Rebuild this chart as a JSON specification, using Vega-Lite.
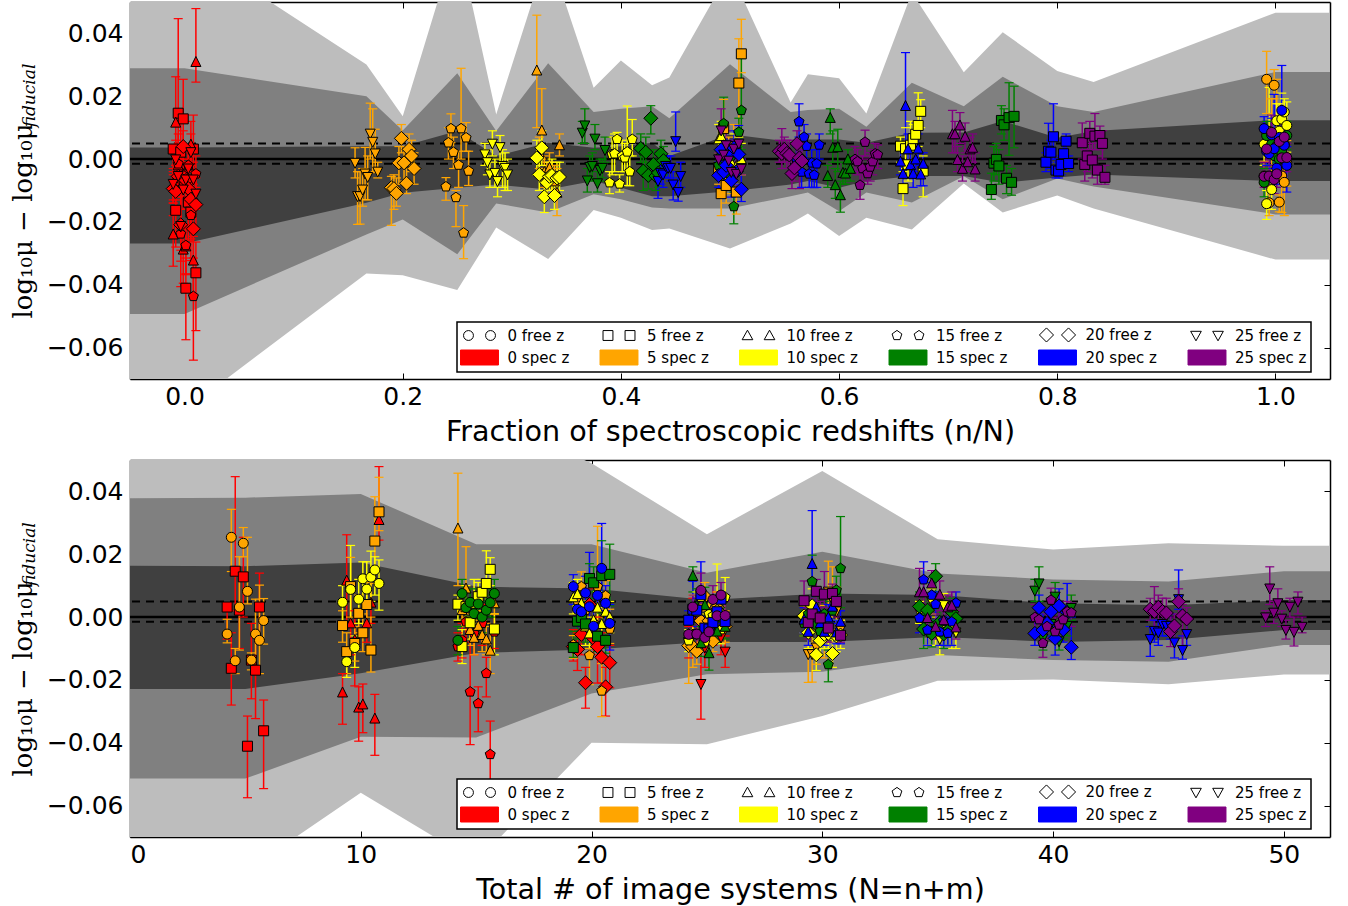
{"$schema":"https://vega.github.io/schema/vega-lite/v6.json","padding":{"left":10,"top":1,"right":18,"bottom":2},"background":"white","bounds":"flush","spacing":81,
"config":{"view":{"stroke":null},"legend":{"strokeWidth":1.5},"axis":{"grid":false,"domainColor":"black","domainWidth":1.5,"tickColor":"black","tickWidth":1,"tickSize":-6,"zindex":1,"labelFont":"DejaVu Sans","labelFontSize":25,"labelColor":"black","titleFont":"DejaVu Sans","titleFontSize":28.6,"titleColor":"black","titleFontWeight":"normal","labelPadding":11}},
"datasets":{
"leg":[{"label":"0 free z"},{"label":"5 free z"},{"label":"10 free z"},{"label":"15 free z"},{"label":"20 free z"},{"label":"25 free z"},{"label":"0 spec z"},{"label":"5 spec z"},{"label":"10 spec z"},{"label":"15 spec z"},{"label":"20 spec z"},{"label":"25 spec z"}],
"lines":[{"v":0,"k":"solid"},{"v":0.005,"k":"dash"},{"v":-0.0015,"k":"dash"}],
"sub":[{"t":"fiducial"}],
"b1":[
{"x":-0.05,"h3":0.0678,"h2":0.0289,"h1":0.0037,"l1":-0.0269,"l2":-0.0493,"l3":-0.08},
{"x":0,"h3":0.0678,"h2":0.0289,"h1":0.0037,"l1":-0.0269,"l2":-0.0493,"l3":-0.08},
{"x":0.1667,"h3":0.0301,"h2":0.02,"h1":0.0041,"l1":-0.0139,"l2":-0.024,"l3":-0.0364},
{"x":0.2,"h3":0.0136,"h2":0.0091,"h1":0.0041,"l1":-0.0107,"l2":-0.0192,"l3":-0.037},
{"x":0.25,"h3":0.0706,"h2":0.0273,"h1":0.0089,"l1":-0.0091,"l2":-0.0303,"l3":-0.0417},
{"x":0.2857,"h3":0.0142,"h2":0.0089,"h1":0.001,"l1":-0.0081,"l2":-0.0141,"l3":-0.0218},
{"x":0.3333,"h3":0.066,"h2":0.0305,"h1":0.0052,"l1":-0.0097,"l2":-0.017,"l3":-0.0318},
{"x":0.375,"h3":0.0227,"h2":0.015,"h1":0.0036,"l1":-0.007,"l2":-0.0112,"l3":-0.0162},
{"x":0.4,"h3":0.0314,"h2":0.016,"h1":0.0041,"l1":-0.0091,"l2":-0.0128,"l3":-0.0187},
{"x":0.4286,"h3":0.0235,"h2":0.0168,"h1":0.0052,"l1":-0.0118,"l2":-0.0154,"l3":-0.0226},
{"x":0.4444,"h3":0.026,"h2":0.013,"h1":0.001,"l1":-0.0118,"l2":-0.0157,"l3":-0.0221},
{"x":0.5,"h3":0.06,"h2":0.0302,"h1":0.0079,"l1":-0.0102,"l2":-0.0157,"l3":-0.0285},
{"x":0.5556,"h3":0.018,"h2":0.015,"h1":0.0055,"l1":-0.0081,"l2":-0.0118,"l3":-0.0205},
{"x":0.5714,"h3":0.027,"h2":0.0156,"h1":0.0062,"l1":-0.007,"l2":-0.0106,"l3":-0.0173},
{"x":0.6,"h3":0.0257,"h2":0.016,"h1":0.0062,"l1":-0.0091,"l2":-0.0166,"l3":-0.0245},
{"x":0.625,"h3":0.0145,"h2":0.0103,"h1":0.0052,"l1":-0.007,"l2":-0.0106,"l3":-0.0187},
{"x":0.6667,"h3":0.053,"h2":0.0243,"h1":0.0084,"l1":-0.0054,"l2":-0.0138,"l3":-0.0224},
{"x":0.7143,"h3":0.0276,"h2":0.0168,"h1":0.0085,"l1":-0.0054,"l2":-0.0055,"l3":-0.0078},
{"x":0.75,"h3":0.0404,"h2":0.0262,"h1":0.0121,"l1":-0.0075,"l2":-0.0128,"l3":-0.017},
{"x":0.8,"h3":0.028,"h2":0.0168,"h1":0.0068,"l1":-0.0059,"l2":-0.0062,"l3":-0.0116},
{"x":0.8333,"h3":0.0245,"h2":0.015,"h1":0.0089,"l1":-0.0049,"l2":-0.0087,"l3":-0.0157},
{"x":1,"h3":0.0466,"h2":0.0277,"h1":0.0124,"l1":-0.007,"l2":-0.0176,"l3":-0.032},
{"x":1.05,"h3":0.0466,"h2":0.0277,"h1":0.0124,"l1":-0.007,"l2":-0.0176,"l3":-0.032}],
"b2":[
{"x":0,"h3":0.07,"h2":0.0378,"h1":0.0163,"l1":-0.0229,"l2":-0.0514,"l3":-0.081},
{"x":5,"h3":0.07,"h2":0.038,"h1":0.0162,"l1":-0.0229,"l2":-0.0514,"l3":-0.081},
{"x":10,"h3":0.07,"h2":0.0392,"h1":0.0174,"l1":-0.0179,"l2":-0.0381,"l3":-0.0559},
{"x":15,"h3":0.065,"h2":0.0232,"h1":0.0097,"l1":-0.0114,"l2":-0.0383,"l3":-0.078},
{"x":20,"h3":0.049,"h2":0.0232,"h1":0.0091,"l1":-0.0103,"l2":-0.0243,"l3":-0.04},
{"x":25,"h3":0.0264,"h2":0.0141,"h1":0.0054,"l1":-0.0079,"l2":-0.0182,"l3":-0.0405},
{"x":30,"h3":0.0465,"h2":0.0208,"h1":0.0075,"l1":-0.0079,"l2":-0.0174,"l3":-0.0315},
{"x":35,"h3":0.0248,"h2":0.0139,"h1":0.007,"l1":-0.0063,"l2":-0.0121,"l3":-0.0203},
{"x":40,"h3":0.0215,"h2":0.012,"h1":0.0044,"l1":-0.0079,"l2":-0.0137,"l3":-0.0199},
{"x":45,"h3":0.0235,"h2":0.0113,"h1":0.0038,"l1":-0.0073,"l2":-0.0142,"l3":-0.0214},
{"x":50,"h3":0.0227,"h2":0.0146,"h1":0.0054,"l1":-0.0041,"l2":-0.0089,"l3":-0.0183},
{"x":52,"h3":0.0227,"h2":0.0146,"h1":0.0054,"l1":-0.0041,"l2":-0.0089,"l3":-0.0183}],
"pts":[
{"n":0,"m":5,"f":-0.0104,"N":4.21,"y":0.0032,"lo":-0.007,"hi":0.0045},
{"n":0,"m":5,"f":-0.0081,"N":4.39,"y":-0.0163,"lo":-0.028,"hi":-0.005},
{"n":0,"m":5,"f":-0.0058,"N":4.56,"y":0.0146,"lo":0.002,"hi":0.0447},
{"n":0,"m":5,"f":-0.0035,"N":4.74,"y":0.0022,"lo":-0.01,"hi":0.013},
{"n":0,"m":5,"f":-0.0012,"N":4.91,"y":0.0128,"lo":0,"hi":0.0254},
{"n":0,"m":5,"f":0.0012,"N":5.09,"y":-0.0411,"lo":-0.0575,"hi":-0.0315},
{"n":0,"m":5,"f":0.0035,"N":5.26,"y":-0.0137,"lo":-0.026,"hi":-0.002},
{"n":0,"m":5,"f":0.0058,"N":5.44,"y":-0.0169,"lo":-0.0323,"hi":-0.006},
{"n":0,"m":5,"f":0.0081,"N":5.61,"y":0.0032,"lo":-0.008,"hi":0.014},
{"n":0,"m":5,"f":0.0104,"N":5.79,"y":-0.0362,"lo":-0.0546,"hi":-0.0264},
{"n":0,"m":10,"f":-0.0104,"N":9.21,"y":-0.024,"lo":-0.0341,"hi":-0.018},
{"n":0,"m":10,"f":-0.0081,"N":9.39,"y":0.0116,"lo":-0.002,"hi":0.0262},
{"n":0,"m":10,"f":-0.0058,"N":9.56,"y":-0.002,"lo":-0.012,"hi":0.008},
{"n":0,"m":10,"f":-0.0035,"N":9.74,"y":-0.0073,"lo":-0.0219,"hi":0.002},
{"n":0,"m":10,"f":-0.0012,"N":9.91,"y":-0.0288,"lo":-0.0395,"hi":-0.0222},
{"n":0,"m":10,"f":0.0012,"N":10.09,"y":-0.0278,"lo":-0.0368,"hi":-0.0213},
{"n":0,"m":10,"f":0.0035,"N":10.26,"y":-0.002,"lo":-0.008,"hi":0.004},
{"n":0,"m":10,"f":0.0058,"N":10.44,"y":0.0046,"lo":-0.002,"hi":0.012},
{"n":0,"m":10,"f":0.0081,"N":10.61,"y":-0.0323,"lo":-0.044,"hi":-0.0246},
{"n":0,"m":10,"f":0.0104,"N":10.79,"y":0.0309,"lo":0.0245,"hi":0.0479},
{"n":0,"m":15,"f":-0.0104,"N":14.21,"y":-0.0094,"lo":-0.014,"hi":-0.005},
{"n":0,"m":15,"f":-0.0081,"N":14.39,"y":-0.0073,"lo":-0.013,"hi":-0.002},
{"n":0,"m":15,"f":-0.0058,"N":14.56,"y":-0.0015,"lo":-0.008,"hi":0.005},
{"n":0,"m":15,"f":-0.0035,"N":14.74,"y":-0.0238,"lo":-0.0406,"hi":-0.004},
{"n":0,"m":15,"f":-0.0012,"N":14.91,"y":-0.0052,"lo":-0.012,"hi":0.002},
{"n":0,"m":15,"f":0.0012,"N":15.09,"y":-0.0275,"lo":-0.0365,"hi":-0.0222},
{"n":0,"m":15,"f":0.0035,"N":15.26,"y":-0.002,"lo":-0.009,"hi":0.004},
{"n":0,"m":15,"f":0.0058,"N":15.44,"y":-0.0179,"lo":-0.0254,"hi":-0.0128},
{"n":0,"m":15,"f":0.0081,"N":15.61,"y":-0.0437,"lo":-0.064,"hi":-0.0331},
{"n":0,"m":15,"f":0.0104,"N":15.79,"y":-0.0047,"lo":-0.01,"hi":0.001},
{"n":0,"m":20,"f":-0.0104,"N":19.21,"y":-0.0094,"lo":-0.014,"hi":-0.004},
{"n":0,"m":20,"f":-0.0081,"N":19.39,"y":-0.0103,"lo":-0.017,"hi":-0.005},
{"n":0,"m":20,"f":-0.0058,"N":19.56,"y":-0.0055,"lo":-0.012,"hi":0},
{"n":0,"m":20,"f":-0.0035,"N":19.74,"y":-0.0209,"lo":-0.029,"hi":-0.016},
{"n":0,"m":20,"f":-0.0012,"N":19.91,"y":0.004,"lo":-0.002,"hi":0.009},
{"n":0,"m":20,"f":0.0012,"N":20.09,"y":-0.0068,"lo":-0.012,"hi":-0.001},
{"n":0,"m":20,"f":0.0035,"N":20.26,"y":-0.0094,"lo":-0.021,"hi":0},
{"n":0,"m":20,"f":0.0058,"N":20.44,"y":-0.0128,"lo":-0.021,"hi":-0.005},
{"n":0,"m":20,"f":0.0081,"N":20.61,"y":-0.0222,"lo":-0.0315,"hi":-0.016},
{"n":0,"m":20,"f":0.0104,"N":20.79,"y":-0.0145,"lo":-0.0225,"hi":-0.009},
{"n":0,"m":25,"f":-0.0104,"N":24.21,"y":-0.0079,"lo":-0.013,"hi":-0.003},
{"n":0,"m":25,"f":-0.0081,"N":24.39,"y":-0.0001,"lo":-0.006,"hi":0.006},
{"n":0,"m":25,"f":-0.0058,"N":24.56,"y":-0.0054,"lo":-0.012,"hi":0.001},
{"n":0,"m":25,"f":-0.0035,"N":24.74,"y":-0.0213,"lo":-0.0325,"hi":-0.011},
{"n":0,"m":25,"f":-0.0012,"N":24.91,"y":-0.0097,"lo":-0.016,"hi":-0.004},
{"n":0,"m":25,"f":0.0012,"N":25.09,"y":-0.0065,"lo":-0.012,"hi":-0.001},
{"n":0,"m":25,"f":0.0035,"N":25.26,"y":-0.003,"lo":-0.009,"hi":0.003},
{"n":0,"m":25,"f":0.0058,"N":25.44,"y":0.0022,"lo":-0.004,"hi":0.008},
{"n":0,"m":25,"f":0.0081,"N":25.61,"y":-0.0065,"lo":-0.012,"hi":-0.001},
{"n":0,"m":25,"f":0.0104,"N":25.79,"y":-0.011,"lo":-0.016,"hi":-0.006},
{"n":5,"m":0,"f":0.9896,"N":4.21,"y":-0.0054,"lo":-0.0082,"hi":-0.0007},
{"n":5,"m":0,"f":0.9919,"N":4.39,"y":0.0254,"lo":0.0145,"hi":0.0343},
{"n":5,"m":0,"f":0.9942,"N":4.56,"y":-0.0139,"lo":-0.018,"hi":-0.01},
{"n":5,"m":0,"f":0.9965,"N":4.74,"y":0.0032,"lo":-0.0105,"hi":0.0192},
{"n":5,"m":0,"f":0.9988,"N":4.91,"y":0.0235,"lo":0.0192,"hi":0.0285},
{"n":5,"m":0,"f":1.0012,"N":5.09,"y":0.0082,"lo":0.0042,"hi":0.0254},
{"n":5,"m":0,"f":1.0035,"N":5.26,"y":-0.0137,"lo":-0.0168,"hi":-0.0114},
{"n":5,"m":0,"f":1.0058,"N":5.44,"y":-0.0054,"lo":-0.017,"hi":0.0057},
{"n":5,"m":0,"f":1.0081,"N":5.61,"y":-0.0074,"lo":-0.018,"hi":0.0102},
{"n":5,"m":0,"f":1.0104,"N":5.79,"y":-0.0011,"lo":-0.0086,"hi":0.0059},
{"n":5,"m":5,"f":0.4896,"N":9.21,"y":-0.0027,"lo":-0.008,"hi":0.002},
{"n":5,"m":5,"f":0.4919,"N":9.39,"y":-0.011,"lo":-0.018,"hi":-0.005},
{"n":5,"m":5,"f":0.4942,"N":9.56,"y":0.0097,"lo":0,"hi":0.019},
{"n":5,"m":5,"f":0.4965,"N":9.74,"y":-0.0084,"lo":-0.014,"hi":-0.003},
{"n":5,"m":5,"f":0.4988,"N":9.91,"y":0.0012,"lo":-0.005,"hi":0.007},
{"n":5,"m":5,"f":0.5012,"N":10.09,"y":-0.005,"lo":-0.011,"hi":0.001},
{"n":5,"m":5,"f":0.5035,"N":10.26,"y":0.004,"lo":-0.003,"hi":0.011},
{"n":5,"m":5,"f":0.5058,"N":10.44,"y":-0.0105,"lo":-0.0175,"hi":0},
{"n":5,"m":5,"f":0.5081,"N":10.61,"y":0.0242,"lo":0.0107,"hi":0.0383},
{"n":5,"m":5,"f":0.5104,"N":10.79,"y":0.0335,"lo":0.0275,"hi":0.0445},
{"n":5,"m":10,"f":0.3229,"N":14.21,"y":0.0282,"lo":0.01,"hi":0.0458},
{"n":5,"m":10,"f":0.3252,"N":14.39,"y":0.0022,"lo":-0.003,"hi":0.007},
{"n":5,"m":10,"f":0.3275,"N":14.56,"y":0.0091,"lo":0,"hi":0.0224},
{"n":5,"m":10,"f":0.3298,"N":14.74,"y":-0.0041,"lo":-0.009,"hi":0.001},
{"n":5,"m":10,"f":0.3321,"N":14.91,"y":-0.0066,"lo":-0.012,"hi":-0.001},
{"n":5,"m":10,"f":0.3345,"N":15.09,"y":-0.0028,"lo":-0.007,"hi":0.002},
{"n":5,"m":10,"f":0.3368,"N":15.26,"y":-0.0057,"lo":-0.011,"hi":-0.001},
{"n":5,"m":10,"f":0.3391,"N":15.44,"y":-0.0071,"lo":-0.012,"hi":-0.002},
{"n":5,"m":10,"f":0.3414,"N":15.61,"y":-0.0107,"lo":-0.018,"hi":-0.003},
{"n":5,"m":10,"f":0.3437,"N":15.79,"y":0.0044,"lo":0.001,"hi":0.008},
{"n":5,"m":15,"f":0.2396,"N":19.21,"y":-0.0088,"lo":-0.0131,"hi":-0.0059},
{"n":5,"m":15,"f":0.2419,"N":19.39,"y":0.0052,"lo":0,"hi":0.01},
{"n":5,"m":15,"f":0.2442,"N":19.56,"y":0.0097,"lo":0.0052,"hi":0.0144},
{"n":5,"m":15,"f":0.2465,"N":19.74,"y":0.0022,"lo":-0.003,"hi":0.007},
{"n":5,"m":15,"f":0.2488,"N":19.91,"y":-0.0122,"lo":-0.0215,"hi":-0.01},
{"n":5,"m":15,"f":0.2512,"N":20.09,"y":-0.0019,"lo":-0.009,"hi":0.0025},
{"n":5,"m":15,"f":0.2535,"N":20.26,"y":0.0097,"lo":0,"hi":0.0289},
{"n":5,"m":15,"f":0.2558,"N":20.44,"y":-0.0235,"lo":-0.0317,"hi":-0.0148},
{"n":5,"m":15,"f":0.2581,"N":20.61,"y":0.0068,"lo":0.0025,"hi":0.0116},
{"n":5,"m":15,"f":0.2604,"N":20.79,"y":-0.0038,"lo":-0.0084,"hi":0.0025},
{"n":5,"m":20,"f":0.1896,"N":24.21,"y":-0.0091,"lo":-0.0211,"hi":-0.0055},
{"n":5,"m":20,"f":0.1919,"N":24.39,"y":-0.0094,"lo":-0.016,"hi":-0.005},
{"n":5,"m":20,"f":0.1942,"N":24.56,"y":-0.0109,"lo":-0.015,"hi":-0.006},
{"n":5,"m":20,"f":0.1965,"N":24.74,"y":-0.0012,"lo":-0.008,"hi":0.004},
{"n":5,"m":20,"f":0.1988,"N":24.91,"y":0.0066,"lo":0.002,"hi":0.011},
{"n":5,"m":20,"f":0.2012,"N":25.09,"y":-0.0012,"lo":-0.007,"hi":0.004},
{"n":5,"m":20,"f":0.2035,"N":25.26,"y":-0.0077,"lo":-0.011,"hi":-0.003},
{"n":5,"m":20,"f":0.2058,"N":25.44,"y":0.0031,"lo":-0.002,"hi":0.008},
{"n":5,"m":20,"f":0.2081,"N":25.61,"y":0.001,"lo":-0.004,"hi":0.006},
{"n":5,"m":20,"f":0.2104,"N":25.79,"y":-0.003,"lo":-0.008,"hi":0.002},
{"n":5,"m":25,"f":0.1563,"N":29.21,"y":-0.0012,"lo":-0.006,"hi":0.0036},
{"n":5,"m":25,"f":0.1586,"N":29.39,"y":-0.0118,"lo":-0.0208,"hi":-0.004},
{"n":5,"m":25,"f":0.1609,"N":29.56,"y":-0.0118,"lo":-0.0207,"hi":-0.004},
{"n":5,"m":25,"f":0.1632,"N":29.74,"y":-0.0097,"lo":-0.015,"hi":-0.003},
{"n":5,"m":25,"f":0.1655,"N":29.91,"y":-0.0046,"lo":-0.0129,"hi":0.0037},
{"n":5,"m":25,"f":0.1679,"N":30.09,"y":-0.0057,"lo":-0.013,"hi":0.001},
{"n":5,"m":25,"f":0.1702,"N":30.26,"y":0.0081,"lo":0,"hi":0.0178},
{"n":5,"m":25,"f":0.1725,"N":30.44,"y":0.0055,"lo":-0.0043,"hi":0.016},
{"n":5,"m":25,"f":0.1748,"N":30.61,"y":0.0018,"lo":-0.004,"hi":0.0095},
{"n":5,"m":25,"f":0.1771,"N":30.79,"y":-0.004,"lo":-0.006,"hi":-0.001},
{"n":10,"m":0,"f":0.9896,"N":9.21,"y":0.0047,"lo":-0.002,"hi":0.01},
{"n":10,"m":0,"f":0.9919,"N":9.39,"y":-0.0142,"lo":-0.0192,"hi":-0.01},
{"n":10,"m":0,"f":0.9942,"N":9.56,"y":0.0088,"lo":-0.003,"hi":0.0228},
{"n":10,"m":0,"f":0.9965,"N":9.74,"y":-0.0097,"lo":-0.016,"hi":-0.006},
{"n":10,"m":0,"f":0.9988,"N":9.91,"y":0.0057,"lo":-0.002,"hi":0.012},
{"n":10,"m":0,"f":1.0012,"N":10.09,"y":0.0122,"lo":0.005,"hi":0.0176},
{"n":10,"m":0,"f":1.0035,"N":10.26,"y":0.0089,"lo":0.003,"hi":0.0176},
{"n":10,"m":0,"f":1.0058,"N":10.44,"y":0.0127,"lo":0.005,"hi":0.021},
{"n":10,"m":0,"f":1.0081,"N":10.61,"y":0.015,"lo":0.007,"hi":0.0192},
{"n":10,"m":0,"f":1.0104,"N":10.79,"y":0.0107,"lo":0.0022,"hi":0.0182},
{"n":10,"m":5,"f":0.6563,"N":14.21,"y":0.0041,"lo":-0.001,"hi":0.007},
{"n":10,"m":5,"f":0.6586,"N":14.39,"y":-0.0094,"lo":-0.0148,"hi":-0.004},
{"n":10,"m":5,"f":0.6609,"N":14.56,"y":0.0033,"lo":-0.003,"hi":0.01},
{"n":10,"m":5,"f":0.6632,"N":14.74,"y":-0.0018,"lo":-0.007,"hi":0.003},
{"n":10,"m":5,"f":0.6655,"N":14.91,"y":0.0044,"lo":-0.002,"hi":0.012},
{"n":10,"m":5,"f":0.6679,"N":15.09,"y":0.0065,"lo":0.002,"hi":0.011},
{"n":10,"m":5,"f":0.6702,"N":15.26,"y":0.0079,"lo":0.003,"hi":0.012},
{"n":10,"m":5,"f":0.6725,"N":15.44,"y":0.0107,"lo":0.004,"hi":0.0211},
{"n":10,"m":5,"f":0.6748,"N":15.61,"y":0.0152,"lo":0.01,"hi":0.0189},
{"n":10,"m":5,"f":0.6771,"N":15.79,"y":-0.0038,"lo":-0.012,"hi":0.001},
{"n":10,"m":10,"f":0.4896,"N":19.21,"y":0.0063,"lo":0.001,"hi":0.011},
{"n":10,"m":10,"f":0.4919,"N":19.39,"y":0.0073,"lo":0.002,"hi":0.012},
{"n":10,"m":10,"f":0.4942,"N":19.56,"y":0.0044,"lo":-0.002,"hi":0.01},
{"n":10,"m":10,"f":0.4965,"N":19.74,"y":-0.003,"lo":-0.009,"hi":0.002},
{"n":10,"m":10,"f":0.4988,"N":19.91,"y":-0.0052,"lo":-0.01,"hi":0},
{"n":10,"m":10,"f":0.5012,"N":20.09,"y":-0.001,"lo":-0.006,"hi":0.004},
{"n":10,"m":10,"f":0.5035,"N":20.26,"y":0.003,"lo":-0.002,"hi":0.008},
{"n":10,"m":10,"f":0.5058,"N":20.44,"y":-0.0022,"lo":-0.008,"hi":0.003},
{"n":10,"m":10,"f":0.5081,"N":20.61,"y":0.0017,"lo":-0.003,"hi":0.007},
{"n":10,"m":10,"f":0.5104,"N":20.79,"y":0,"lo":-0.005,"hi":0.005},
{"n":10,"m":15,"f":0.3896,"N":24.21,"y":-0.0075,"lo":-0.011,"hi":-0.004},
{"n":10,"m":15,"f":0.3919,"N":24.39,"y":0.0015,"lo":-0.005,"hi":0.007},
{"n":10,"m":15,"f":0.3942,"N":24.56,"y":0.0017,"lo":-0.004,"hi":0.008},
{"n":10,"m":15,"f":0.3965,"N":24.74,"y":0.0063,"lo":0.001,"hi":0.0085},
{"n":10,"m":15,"f":0.3988,"N":24.91,"y":-0.0079,"lo":-0.0105,"hi":-0.005},
{"n":10,"m":15,"f":0.4012,"N":25.09,"y":0.001,"lo":-0.004,"hi":0.006},
{"n":10,"m":15,"f":0.4035,"N":25.26,"y":0.0004,"lo":-0.004,"hi":0.005},
{"n":10,"m":15,"f":0.4058,"N":25.44,"y":0.0023,"lo":-0.0084,"hi":0.0169},
{"n":10,"m":15,"f":0.4081,"N":25.61,"y":-0.004,"lo":-0.0085,"hi":0.001},
{"n":10,"m":15,"f":0.4104,"N":25.79,"y":0.0063,"lo":0.001,"hi":0.0126},
{"n":10,"m":20,"f":0.3229,"N":29.21,"y":0.0004,"lo":-0.005,"hi":0.006},
{"n":10,"m":20,"f":0.3252,"N":29.39,"y":-0.0049,"lo":-0.01,"hi":0},
{"n":10,"m":20,"f":0.3275,"N":29.56,"y":0.0036,"lo":-0.002,"hi":0.009},
{"n":10,"m":20,"f":0.3298,"N":29.74,"y":-0.012,"lo":-0.017,"hi":-0.007},
{"n":10,"m":20,"f":0.3321,"N":29.91,"y":-0.0075,"lo":-0.012,"hi":-0.003},
{"n":10,"m":20,"f":0.3345,"N":30.09,"y":-0.0055,"lo":-0.01,"hi":-0.001},
{"n":10,"m":20,"f":0.3368,"N":30.26,"y":-0.0052,"lo":-0.01,"hi":0},
{"n":10,"m":20,"f":0.3391,"N":30.44,"y":-0.0116,"lo":-0.016,"hi":-0.007},
{"n":10,"m":20,"f":0.3414,"N":30.61,"y":-0.006,"lo":-0.011,"hi":-0.001},
{"n":10,"m":20,"f":0.3437,"N":30.79,"y":-0.0057,"lo":-0.01,"hi":-0.001},
{"n":10,"m":25,"f":0.2753,"N":34.21,"y":0.0015,"lo":-0.002,"hi":0.005},
{"n":10,"m":25,"f":0.2776,"N":34.39,"y":-0.001,"lo":-0.005,"hi":0.003},
{"n":10,"m":25,"f":0.2799,"N":34.56,"y":-0.0049,"lo":-0.009,"hi":-0.001},
{"n":10,"m":25,"f":0.2822,"N":34.74,"y":0.0049,"lo":0.001,"hi":0.009},
{"n":10,"m":25,"f":0.2845,"N":34.91,"y":-0.0044,"lo":-0.009,"hi":0},
{"n":10,"m":25,"f":0.2869,"N":35.09,"y":-0.007,"lo":-0.012,"hi":-0.003},
{"n":10,"m":25,"f":0.2892,"N":35.26,"y":0.0038,"lo":-0.001,"hi":0.0075},
{"n":10,"m":25,"f":0.2915,"N":35.44,"y":-0.0022,"lo":-0.009,"hi":0.003},
{"n":10,"m":25,"f":0.2938,"N":35.61,"y":-0.0028,"lo":-0.01,"hi":0.002},
{"n":10,"m":25,"f":0.2961,"N":35.79,"y":-0.0049,"lo":-0.01,"hi":0},
{"n":15,"m":0,"f":0.9896,"N":14.21,"y":-0.0074,"lo":-0.012,"hi":-0.003},
{"n":15,"m":0,"f":0.9919,"N":14.39,"y":0.0075,"lo":0.003,"hi":0.012},
{"n":15,"m":0,"f":0.9942,"N":14.56,"y":0.003,"lo":-0.002,"hi":0.008},
{"n":15,"m":0,"f":0.9965,"N":14.74,"y":0.0047,"lo":0,"hi":0.009},
{"n":15,"m":0,"f":0.9988,"N":14.91,"y":0.0011,"lo":-0.004,"hi":0.006},
{"n":15,"m":0,"f":1.0012,"N":15.09,"y":0.0042,"lo":-0.001,"hi":0.009},
{"n":15,"m":0,"f":1.0035,"N":15.26,"y":0,"lo":-0.005,"hi":0.005},
{"n":15,"m":0,"f":1.0058,"N":15.44,"y":0.0022,"lo":-0.003,"hi":0.007},
{"n":15,"m":0,"f":1.0081,"N":15.61,"y":0.0046,"lo":0,"hi":0.009},
{"n":15,"m":0,"f":1.0104,"N":15.79,"y":0.0075,"lo":0.003,"hi":0.012},
{"n":15,"m":5,"f":0.7396,"N":19.21,"y":-0.0097,"lo":-0.0128,"hi":-0.0045},
{"n":15,"m":5,"f":0.7419,"N":19.39,"y":-0.0013,"lo":-0.007,"hi":0.004},
{"n":15,"m":5,"f":0.7442,"N":19.56,"y":-0.0001,"lo":-0.005,"hi":0.005},
{"n":15,"m":5,"f":0.7465,"N":19.74,"y":-0.0022,"lo":-0.008,"hi":0.003},
{"n":15,"m":5,"f":0.7488,"N":19.91,"y":0.0123,"lo":0.008,"hi":0.017},
{"n":15,"m":5,"f":0.7512,"N":20.09,"y":0.0109,"lo":0.006,"hi":0.016},
{"n":15,"m":5,"f":0.7535,"N":20.26,"y":-0.0061,"lo":-0.011,"hi":-0.002},
{"n":15,"m":5,"f":0.7558,"N":20.44,"y":0.0132,"lo":0.0012,"hi":0.0243},
{"n":15,"m":5,"f":0.7581,"N":20.61,"y":-0.0074,"lo":-0.0115,"hi":-0.003},
{"n":15,"m":5,"f":0.7604,"N":20.79,"y":0.0136,"lo":0.0036,"hi":0.0232},
{"n":15,"m":10,"f":0.5896,"N":24.21,"y":-0.0054,"lo":-0.009,"hi":-0.002},
{"n":15,"m":10,"f":0.5919,"N":24.39,"y":0.0131,"lo":0.008,"hi":0.016},
{"n":15,"m":10,"f":0.5942,"N":24.56,"y":0.0036,"lo":-0.001,"hi":0.009},
{"n":15,"m":10,"f":0.5965,"N":24.74,"y":-0.0083,"lo":-0.0125,"hi":-0.003},
{"n":15,"m":10,"f":0.5988,"N":24.91,"y":0.0038,"lo":-0.004,"hi":0.0095},
{"n":15,"m":10,"f":0.6012,"N":25.09,"y":-0.0115,"lo":-0.0169,"hi":-0.007},
{"n":15,"m":10,"f":0.6035,"N":25.26,"y":-0.0044,"lo":-0.008,"hi":-0.001},
{"n":15,"m":10,"f":0.6058,"N":25.44,"y":-0.0046,"lo":-0.008,"hi":-0.001},
{"n":15,"m":10,"f":0.6081,"N":25.61,"y":-0.0001,"lo":-0.004,"hi":0.003},
{"n":15,"m":10,"f":0.6104,"N":25.79,"y":-0.0031,"lo":-0.007,"hi":0.001},
{"n":15,"m":15,"f":0.4896,"N":29.21,"y":-0.002,"lo":-0.006,"hi":0.002},
{"n":15,"m":15,"f":0.4919,"N":29.39,"y":0.001,"lo":-0.003,"hi":0.005},
{"n":15,"m":15,"f":0.4942,"N":29.56,"y":0.0113,"lo":0.006,"hi":0.0197},
{"n":15,"m":15,"f":0.4965,"N":29.74,"y":-0.0025,"lo":-0.007,"hi":0.002},
{"n":15,"m":15,"f":0.4988,"N":29.91,"y":-0.0045,"lo":-0.009,"hi":0},
{"n":15,"m":15,"f":0.5012,"N":30.09,"y":0.001,"lo":-0.003,"hi":0.005},
{"n":15,"m":15,"f":0.5035,"N":30.26,"y":-0.0151,"lo":-0.0206,"hi":-0.0105},
{"n":15,"m":15,"f":0.5058,"N":30.44,"y":0.002,"lo":-0.002,"hi":0.006},
{"n":15,"m":15,"f":0.5081,"N":30.61,"y":0.0086,"lo":0.004,"hi":0.013},
{"n":15,"m":15,"f":0.5104,"N":30.79,"y":0.0155,"lo":0.003,"hi":0.032},
{"n":15,"m":20,"f":0.4182,"N":34.21,"y":0.0034,"lo":-0.001,"hi":0.008},
{"n":15,"m":20,"f":0.4205,"N":34.39,"y":-0.0038,"lo":-0.01,"hi":0.001},
{"n":15,"m":20,"f":0.4228,"N":34.56,"y":0.0022,"lo":-0.003,"hi":0.007},
{"n":15,"m":20,"f":0.4251,"N":34.74,"y":-0.0052,"lo":-0.0095,"hi":-0.001},
{"n":15,"m":20,"f":0.4274,"N":34.91,"y":0.013,"lo":0.008,"hi":0.017},
{"n":15,"m":20,"f":0.4298,"N":35.09,"y":-0.0017,"lo":-0.006,"hi":0.003},
{"n":15,"m":20,"f":0.4321,"N":35.26,"y":-0.0054,"lo":-0.01,"hi":-0.001},
{"n":15,"m":20,"f":0.4344,"N":35.44,"y":-0.0044,"lo":-0.009,"hi":0},
{"n":15,"m":20,"f":0.4367,"N":35.61,"y":0.0017,"lo":-0.003,"hi":0.006},
{"n":15,"m":20,"f":0.439,"N":35.79,"y":-0.0005,"lo":-0.005,"hi":0.004},
{"n":15,"m":25,"f":0.3646,"N":39.21,"y":0.0084,"lo":0.005,"hi":0.012},
{"n":15,"m":25,"f":0.3669,"N":39.39,"y":0.0107,"lo":0.005,"hi":0.016},
{"n":15,"m":25,"f":0.3692,"N":39.56,"y":-0.0068,"lo":-0.0105,"hi":-0.003},
{"n":15,"m":25,"f":0.3715,"N":39.74,"y":-0.0025,"lo":-0.006,"hi":0.001},
{"n":15,"m":25,"f":0.3738,"N":39.91,"y":-0.0022,"lo":-0.007,"hi":0.002},
{"n":15,"m":25,"f":0.3762,"N":40.09,"y":0.0065,"lo":0.003,"hi":0.011},
{"n":15,"m":25,"f":0.3785,"N":40.26,"y":-0.0077,"lo":-0.0105,"hi":-0.004},
{"n":15,"m":25,"f":0.3808,"N":40.44,"y":-0.0035,"lo":-0.007,"hi":0},
{"n":15,"m":25,"f":0.3831,"N":40.61,"y":-0.0028,"lo":-0.006,"hi":0},
{"n":15,"m":25,"f":0.3854,"N":40.79,"y":0.0029,"lo":-0.001,"hi":0.007},
{"n":20,"m":0,"f":0.9896,"N":19.21,"y":0.0097,"lo":0.004,"hi":0.0135},
{"n":20,"m":0,"f":0.9919,"N":19.39,"y":0.0025,"lo":-0.002,"hi":0.007},
{"n":20,"m":0,"f":0.9942,"N":19.56,"y":0.0017,"lo":-0.003,"hi":0.007},
{"n":20,"m":0,"f":0.9965,"N":19.74,"y":0.0077,"lo":0.003,"hi":0.013},
{"n":20,"m":0,"f":0.9988,"N":19.91,"y":0.0033,"lo":-0.002,"hi":0.0206},
{"n":20,"m":0,"f":1.0012,"N":20.09,"y":-0.0029,"lo":-0.008,"hi":0.002},
{"n":20,"m":0,"f":1.0035,"N":20.26,"y":0.0069,"lo":0.002,"hi":0.012},
{"n":20,"m":0,"f":1.0058,"N":20.44,"y":0.0155,"lo":0.002,"hi":0.0298},
{"n":20,"m":0,"f":1.0081,"N":20.61,"y":0.0044,"lo":-0.002,"hi":0.01},
{"n":20,"m":0,"f":1.0104,"N":20.79,"y":-0.002,"lo":-0.0105,"hi":0.004},
{"n":20,"m":5,"f":0.7896,"N":24.21,"y":-0.001,"lo":-0.004,"hi":0.002},
{"n":20,"m":5,"f":0.7919,"N":24.39,"y":0.0025,"lo":-0.001,"hi":0.0114},
{"n":20,"m":5,"f":0.7942,"N":24.56,"y":0.0022,"lo":-0.003,"hi":0.006},
{"n":20,"m":5,"f":0.7965,"N":24.74,"y":0.0071,"lo":0,"hi":0.0176},
{"n":20,"m":5,"f":0.7988,"N":24.91,"y":-0.0035,"lo":-0.006,"hi":0},
{"n":20,"m":5,"f":0.8012,"N":25.09,"y":-0.0038,"lo":-0.006,"hi":-0.001},
{"n":20,"m":5,"f":0.8035,"N":25.26,"y":-0.0017,"lo":-0.005,"hi":0.001},
{"n":20,"m":5,"f":0.8058,"N":25.44,"y":0.0017,"lo":-0.002,"hi":0.006},
{"n":20,"m":5,"f":0.8081,"N":25.61,"y":0.0057,"lo":0.001,"hi":0.008},
{"n":20,"m":5,"f":0.8104,"N":25.79,"y":-0.0014,"lo":-0.004,"hi":0.001},
{"n":20,"m":10,"f":0.6563,"N":29.21,"y":-0.0008,"lo":-0.005,"hi":0.003},
{"n":20,"m":10,"f":0.6586,"N":29.39,"y":-0.0047,"lo":-0.009,"hi":-0.001},
{"n":20,"m":10,"f":0.6609,"N":29.56,"y":0.0169,"lo":0.005,"hi":0.0339},
{"n":20,"m":10,"f":0.6632,"N":29.74,"y":0.0031,"lo":-0.002,"hi":0.008},
{"n":20,"m":10,"f":0.6655,"N":29.91,"y":-0.0019,"lo":-0.006,"hi":0.002},
{"n":20,"m":10,"f":0.6679,"N":30.09,"y":-0.0047,"lo":-0.009,"hi":-0.001},
{"n":20,"m":10,"f":0.6702,"N":30.26,"y":-0.0001,"lo":-0.004,"hi":0.004},
{"n":20,"m":10,"f":0.6725,"N":30.44,"y":0.0033,"lo":-0.002,"hi":0.008},
{"n":20,"m":10,"f":0.6748,"N":30.61,"y":-0.0049,"lo":-0.0085,"hi":-0.001},
{"n":20,"m":10,"f":0.6771,"N":30.79,"y":-0.0015,"lo":-0.0085,"hi":0.002},
{"n":20,"m":15,"f":0.561,"N":34.21,"y":-0.0003,"lo":-0.005,"hi":0.004},
{"n":20,"m":15,"f":0.5633,"N":34.39,"y":0.0119,"lo":0.007,"hi":0.0176},
{"n":20,"m":15,"f":0.5656,"N":34.56,"y":-0.0041,"lo":-0.009,"hi":0},
{"n":20,"m":15,"f":0.5679,"N":34.74,"y":0.007,"lo":0.003,"hi":0.011},
{"n":20,"m":15,"f":0.5702,"N":34.91,"y":0.0041,"lo":-0.001,"hi":0.008},
{"n":20,"m":15,"f":0.5726,"N":35.09,"y":-0.0047,"lo":-0.009,"hi":0},
{"n":20,"m":15,"f":0.5749,"N":35.26,"y":-0.0012,"lo":-0.009,"hi":0.003},
{"n":20,"m":15,"f":0.5772,"N":35.44,"y":-0.0051,"lo":-0.0091,"hi":0},
{"n":20,"m":15,"f":0.5795,"N":35.61,"y":-0.0015,"lo":-0.009,"hi":0.003},
{"n":20,"m":15,"f":0.5818,"N":35.79,"y":0.0045,"lo":0,"hi":0.008},
{"n":20,"m":20,"f":0.4896,"N":39.21,"y":-0.0052,"lo":-0.009,"hi":-0.001},
{"n":20,"m":20,"f":0.4919,"N":39.39,"y":0.003,"lo":-0.002,"hi":0.007},
{"n":20,"m":20,"f":0.4942,"N":39.56,"y":-0.0041,"lo":-0.009,"hi":0.001},
{"n":20,"m":20,"f":0.4965,"N":39.74,"y":-0.002,"lo":-0.006,"hi":0.002},
{"n":20,"m":20,"f":0.4988,"N":39.91,"y":0.0017,"lo":-0.003,"hi":0.006},
{"n":20,"m":20,"f":0.5012,"N":40.09,"y":-0.0068,"lo":-0.0121,"hi":-0.002},
{"n":20,"m":20,"f":0.5035,"N":40.26,"y":0.0036,"lo":-0.002,"hi":0.009},
{"n":20,"m":20,"f":0.5058,"N":40.44,"y":-0.004,"lo":-0.008,"hi":0},
{"n":20,"m":20,"f":0.5081,"N":40.61,"y":0.0015,"lo":-0.003,"hi":0.0107},
{"n":20,"m":20,"f":0.5104,"N":40.79,"y":-0.0096,"lo":-0.0135,"hi":0},
{"n":20,"m":25,"f":0.434,"N":44.21,"y":-0.007,"lo":-0.0125,"hi":-0.003},
{"n":20,"m":25,"f":0.4363,"N":44.39,"y":-0.0044,"lo":-0.008,"hi":-0.001},
{"n":20,"m":25,"f":0.4386,"N":44.56,"y":-0.0049,"lo":-0.009,"hi":-0.001},
{"n":20,"m":25,"f":0.4409,"N":44.74,"y":-0.0022,"lo":-0.006,"hi":0.001},
{"n":20,"m":25,"f":0.4432,"N":44.91,"y":-0.0028,"lo":-0.006,"hi":0.001},
{"n":20,"m":25,"f":0.4456,"N":45.09,"y":-0.0028,"lo":-0.007,"hi":0.001},
{"n":20,"m":25,"f":0.4479,"N":45.26,"y":-0.0081,"lo":-0.013,"hi":-0.004},
{"n":20,"m":25,"f":0.4502,"N":45.44,"y":0.0057,"lo":0.0025,"hi":0.015},
{"n":20,"m":25,"f":0.4525,"N":45.61,"y":-0.0105,"lo":-0.0134,"hi":-0.006},
{"n":20,"m":25,"f":0.4548,"N":45.79,"y":-0.0054,"lo":-0.009,"hi":-0.001},
{"n":25,"m":0,"f":0.9896,"N":24.21,"y":-0.0055,"lo":-0.009,"hi":-0.001},
{"n":25,"m":0,"f":0.9919,"N":24.39,"y":0.0032,"lo":-0.001,"hi":0.007},
{"n":25,"m":0,"f":0.9942,"N":24.56,"y":-0.0054,"lo":-0.009,"hi":0},
{"n":25,"m":0,"f":0.9965,"N":24.74,"y":0.0085,"lo":0.003,"hi":0.014},
{"n":25,"m":0,"f":0.9988,"N":24.91,"y":-0.0065,"lo":-0.011,"hi":-0.002},
{"n":25,"m":0,"f":1.0012,"N":25.09,"y":-0.0047,"lo":-0.009,"hi":0},
{"n":25,"m":0,"f":1.0035,"N":25.26,"y":0.0056,"lo":0.001,"hi":0.01},
{"n":25,"m":0,"f":1.0058,"N":25.44,"y":0.0004,"lo":-0.004,"hi":0.005},
{"n":25,"m":0,"f":1.0081,"N":25.61,"y":0.007,"lo":0.002,"hi":0.011},
{"n":25,"m":0,"f":1.0104,"N":25.79,"y":0.0005,"lo":-0.004,"hi":0.005},
{"n":25,"m":5,"f":0.8229,"N":29.21,"y":0.0052,"lo":0,"hi":0.0115},
{"n":25,"m":5,"f":0.8252,"N":29.39,"y":-0.0017,"lo":-0.007,"hi":0.003},
{"n":25,"m":5,"f":0.8275,"N":29.56,"y":0.001,"lo":-0.004,"hi":0.006},
{"n":25,"m":5,"f":0.8298,"N":29.74,"y":0.0082,"lo":0.003,"hi":0.012},
{"n":25,"m":5,"f":0.8321,"N":29.91,"y":-0.0003,"lo":-0.006,"hi":0.005},
{"n":25,"m":5,"f":0.8345,"N":30.09,"y":0.0073,"lo":0.003,"hi":0.0145},
{"n":25,"m":5,"f":0.8368,"N":30.26,"y":-0.0035,"lo":-0.008,"hi":0.001},
{"n":25,"m":5,"f":0.8391,"N":30.44,"y":0.0075,"lo":0.003,"hi":0.0105},
{"n":25,"m":5,"f":0.8414,"N":30.61,"y":0.005,"lo":0,"hi":0.009},
{"n":25,"m":5,"f":0.8437,"N":30.79,"y":-0.0058,"lo":-0.008,"hi":-0.002},
{"n":25,"m":10,"f":0.7039,"N":34.21,"y":0.0079,"lo":0.002,"hi":0.0155},
{"n":25,"m":10,"f":0.7062,"N":34.39,"y":0.0079,"lo":0.002,"hi":0.012},
{"n":25,"m":10,"f":0.7085,"N":34.56,"y":-0.0003,"lo":-0.004,"hi":0.004},
{"n":25,"m":10,"f":0.7108,"N":34.74,"y":0.0107,"lo":0.005,"hi":0.0148},
{"n":25,"m":10,"f":0.7131,"N":34.91,"y":-0.0031,"lo":-0.007,"hi":0.001},
{"n":25,"m":10,"f":0.7155,"N":35.09,"y":0.0071,"lo":0.002,"hi":0.0115},
{"n":25,"m":10,"f":0.7178,"N":35.26,"y":-0.001,"lo":-0.004,"hi":0.003},
{"n":25,"m":10,"f":0.7201,"N":35.44,"y":0.0031,"lo":0,"hi":0.007},
{"n":25,"m":10,"f":0.7224,"N":35.61,"y":0.0036,"lo":-0.001,"hi":0.008},
{"n":25,"m":10,"f":0.7247,"N":35.79,"y":-0.0033,"lo":-0.007,"hi":0.002},
{"n":25,"m":15,"f":0.6146,"N":39.21,"y":-0.0001,"lo":-0.004,"hi":0.004},
{"n":25,"m":15,"f":0.6169,"N":39.39,"y":-0.0008,"lo":-0.005,"hi":0.003},
{"n":25,"m":15,"f":0.6192,"N":39.56,"y":-0.0083,"lo":-0.0128,"hi":-0.004},
{"n":25,"m":15,"f":0.6215,"N":39.74,"y":-0.003,"lo":-0.007,"hi":0.001},
{"n":25,"m":15,"f":0.6238,"N":39.91,"y":0.0054,"lo":0.001,"hi":0.0092},
{"n":25,"m":15,"f":0.6262,"N":40.09,"y":-0.0046,"lo":-0.008,"hi":0},
{"n":25,"m":15,"f":0.6285,"N":40.26,"y":-0.0025,"lo":-0.007,"hi":0.002},
{"n":25,"m":15,"f":0.6308,"N":40.44,"y":-0.0008,"lo":-0.005,"hi":0.003},
{"n":25,"m":15,"f":0.6331,"N":40.61,"y":0.0017,"lo":-0.002,"hi":0.005},
{"n":25,"m":15,"f":0.6354,"N":40.79,"y":0.0014,"lo":-0.003,"hi":0.0045},
{"n":25,"m":20,"f":0.5452,"N":44.21,"y":0.0025,"lo":-0.001,"hi":0.006},
{"n":25,"m":20,"f":0.5475,"N":44.39,"y":0.0018,"lo":-0.003,"hi":0.0097},
{"n":25,"m":20,"f":0.5498,"N":44.56,"y":0.0031,"lo":-0.001,"hi":0.007},
{"n":25,"m":20,"f":0.5521,"N":44.74,"y":0.0018,"lo":-0.003,"hi":0.006},
{"n":25,"m":20,"f":0.5544,"N":44.91,"y":0.0013,"lo":-0.003,"hi":0.006},
{"n":25,"m":20,"f":0.5568,"N":45.09,"y":-0.0046,"lo":-0.0094,"hi":0},
{"n":25,"m":20,"f":0.5591,"N":45.26,"y":-0.0028,"lo":-0.007,"hi":0.001},
{"n":25,"m":20,"f":0.5614,"N":45.44,"y":0.0049,"lo":0.001,"hi":0.009},
{"n":25,"m":20,"f":0.5637,"N":45.61,"y":0.0004,"lo":-0.0094,"hi":0.004},
{"n":25,"m":20,"f":0.566,"N":45.79,"y":-0.0006,"lo":-0.004,"hi":0.003},
{"n":25,"m":25,"f":0.4896,"N":49.21,"y":-0.0001,"lo":-0.003,"hi":0.002},
{"n":25,"m":25,"f":0.4919,"N":49.39,"y":0.0091,"lo":0.004,"hi":0.016},
{"n":25,"m":25,"f":0.4942,"N":49.56,"y":0.0014,"lo":-0.002,"hi":0.005},
{"n":25,"m":25,"f":0.4965,"N":49.74,"y":0.0044,"lo":0,"hi":0.009},
{"n":25,"m":25,"f":0.4988,"N":49.91,"y":-0.0005,"lo":-0.003,"hi":0.002},
{"n":25,"m":25,"f":0.5012,"N":50.09,"y":-0.0041,"lo":-0.007,"hi":-0.001},
{"n":25,"m":25,"f":0.5035,"N":50.26,"y":0.0033,"lo":0,"hi":0.006},
{"n":25,"m":25,"f":0.5058,"N":50.44,"y":-0.0047,"lo":-0.0092,"hi":0},
{"n":25,"m":25,"f":0.5081,"N":50.61,"y":0.0049,"lo":0.001,"hi":0.008},
{"n":25,"m":25,"f":0.5104,"N":50.79,"y":-0.0031,"lo":-0.005,"hi":0}
]},
"vconcat":[
{"width":1200,"height":377,
"resolve":{"axis":{"x":"independent","y":"independent"},"scale":{"fill":"independent","shape":"independent","stroke":"independent","color":"independent"}},
"layer":[
{"data":{"name":"leg"},"mark":{"type":"point","filled":true,"size":0,"opacity":1},"encoding":{
"fill":{"field":"label","type":"nominal","scale":{"domain":["0 free z","5 free z","10 free z","15 free z","20 free z","25 free z","0 spec z","5 spec z","10 spec z","15 spec z","20 spec z","25 spec z"],"range":["white","white","white","white","white","white","#ff0000","#ffa500","#ffff00","#008000","#0000ff","#800080"]},"legend":{"title":null,"orient":"none","legendX":327,"legendY":320,"direction":"horizontal","columns":6,"symbolSize":225,"symbolOffset":10,"symbolStrokeWidth":1,"symbolOpacity":1,"labelFont":"DejaVu Sans","labelFontSize":15,"labelColor":"black","labelOffset":20,"labelLimit":200,"columnPadding":28.5,"rowPadding":3,"padding":4.5,"strokeColor":"black","fillColor":"white"}},
"stroke":{"field":"label","type":"nominal","scale":{"domain":["0 free z","5 free z","10 free z","15 free z","20 free z","25 free z","0 spec z","5 spec z","10 spec z","15 spec z","20 spec z","25 spec z"],"range":["black","black","black","black","black","black","#ff0000","#ffa500","#ffff00","#008000","#0000ff","#800080"]},"legend":{"title":null}},
"shape":{"field":"label","type":"nominal","scale":{"domain":["0 free z","5 free z","10 free z","15 free z","20 free z","25 free z","0 spec z","5 spec z","10 spec z","15 spec z","20 spec z","25 spec z"],"range":["M-.81,0A.66,.66,0,1,1,-2.13,0A.66,.66,0,1,1,-.81,0ZM2.13,0A.66,.66,0,1,1,.81,0A.66,.66,0,1,1,2.13,0Z","M-2.13,-.66H-.81V.66H-2.13ZM.81,-.66H2.13V.66H.81Z","M-1.47,-.71L-.76,.56H-2.18ZM1.47,-.71L2.18,.56H.76Z","M-1.47,-.68L-.82,-.21L-1.07,.55H-1.87L-2.12,-.21ZM1.47,-.68L2.12,-.21L1.87,.55H1.07L.82,-.21Z","M-1.47,-.94L-.53,0L-1.47,.94L-2.41,0ZM1.47,-.94L2.41,0L1.47,.94L.53,0Z","M-2.18,-.56H-.76L-1.47,.71ZM.76,-.56H2.18L1.47,.71Z","M-2.53,-1H2.53V1H-2.53Z","M-2.53,-1H2.53V1H-2.53Z","M-2.53,-1H2.53V1H-2.53Z","M-2.53,-1H2.53V1H-2.53Z","M-2.53,-1H2.53V1H-2.53Z","M-2.53,-1H2.53V1H-2.53Z"]},"legend":{"title":null}}}},
{"data":{"name":"b1"},"mark":{"type":"area","color":"#bdbdbd","clip":true,"opacity":1},"encoding":{"x":{"field":"x","type":"quantitative","scale":{"domain":[-0.05,1.05],"nice":false,"zero":false},"axis":{"orient":"bottom","values":[0,0.2,0.4,0.6,0.8,1],"format":".1f","title":"Fraction of spectroscopic redshifts (n/N)","titlePadding":8}},"y":{"field":"h3","type":"quantitative","scale":{"domain":[-0.07,0.05],"nice":false,"zero":false},"axis":{"orient":"left","labelPadding":13,"values":[-0.06,-0.04,-0.02,0,0.02,0.04],"format":".2f","title":"log₁₀μ − log₁₀μ","titleFont":"DejaVu Serif","titleFontSize":26,"titleAnchor":"start","titleAngle":270,"titleX":-99,"titleY":316,"titleAlign":"left","titleBaseline":"alphabetic"}},"y2":{"field":"l3"}}},
{"data":{"name":"b1"},"mark":{"type":"area","color":"#808080","clip":true,"opacity":1},"encoding":{"x":{"field":"x","type":"quantitative","axis":null},"y":{"field":"h2","type":"quantitative","axis":null},"y2":{"field":"l2"}}},
{"data":{"name":"b1"},"mark":{"type":"area","color":"#404040","clip":true,"opacity":1},"encoding":{"x":{"field":"x","type":"quantitative","axis":null},"y":{"field":"h1","type":"quantitative","axis":null},"y2":{"field":"l1"}}},
{"data":{"name":"lines"},"mark":{"type":"rule","color":"black"},"encoding":{"y":{"field":"v","type":"quantitative","axis":null},"strokeDash":{"field":"k","type":"nominal","scale":{"domain":["solid","dash"],"range":[[1,0],[8,6]]},"legend":null},"strokeWidth":{"field":"k","type":"nominal","scale":{"domain":["solid","dash"],"range":[2.5,2]},"legend":null}}},
{"data":{"name":"pts"},"mark":{"type":"rule","clip":true,"strokeWidth":1.5,"opacity":1},"encoding":{"x":{"field":"f","type":"quantitative","axis":null},"y":{"field":"lo","type":"quantitative","axis":null},"y2":{"field":"hi"},"color":{"field":"n","type":"ordinal","scale":{"domain":[0,5,10,15,20,25],"range":["#ff0000","#ffa500","#ffff00","#008000","#0000ff","#800080"]},"legend":null}}},
{"data":{"name":"pts"},"mark":{"type":"tick","orient":"horizontal","size":9,"thickness":1.2,"clip":true,"opacity":1},"encoding":{"x":{"field":"f","type":"quantitative","axis":null},"y":{"field":"lo","type":"quantitative","axis":null},"color":{"field":"n","type":"ordinal","scale":{"domain":[0,5,10,15,20,25],"range":["#ff0000","#ffa500","#ffff00","#008000","#0000ff","#800080"]},"legend":null}}},
{"data":{"name":"pts"},"mark":{"type":"tick","orient":"horizontal","size":9,"thickness":1.2,"clip":true,"opacity":1},"encoding":{"x":{"field":"f","type":"quantitative","axis":null},"y":{"field":"hi","type":"quantitative","axis":null},"color":{"field":"n","type":"ordinal","scale":{"domain":[0,5,10,15,20,25],"range":["#ff0000","#ffa500","#ffff00","#008000","#0000ff","#800080"]},"legend":null}}},
{"data":{"name":"pts"},"mark":{"type":"point","filled":true,"stroke":"black","strokeWidth":1,"size":100,"opacity":1,"clip":true},"encoding":{"x":{"field":"f","type":"quantitative","axis":null},"y":{"field":"y","type":"quantitative","axis":null},"fill":{"field":"n","type":"ordinal","scale":{"domain":[0,5,10,15,20,25],"range":["#ff0000","#ffa500","#ffff00","#008000","#0000ff","#800080"]},"legend":null},"shape":{"field":"m","type":"ordinal","scale":{"domain":[0,5,10,15,20,25],"range":["M1,0A1,1,0,1,1,-1,0A1,1,0,1,1,1,0Z","M-1,-1H1V1H-1Z","M0,-1.1L1,.9H-1Z","M0,-1.05L1,-.32L.62,.85H-.62L-1,-.32Z","M0,-1.4L1.4,0L0,1.4L-1.4,0Z","M-1,-.9H1L0,1.1Z"]},"legend":null}}},
{"data":{"name":"sub"},"mark":{"type":"text","font":"DejaVu Serif","fontStyle":"italic","fontSize":17,"angle":270,"align":"left","baseline":"alphabetic","color":"black"},"encoding":{"text":{"field":"t"},"x":{"datum":-0.1375,"type":"quantitative","axis":null},"y":{"datum":0.0101,"type":"quantitative","axis":null}}},
{"data":{"name":"sub"},"mark":{"type":"point","size":0,"opacity":0},"encoding":{"x":{"datum":0,"type":"quantitative","axis":{"orient":"top","values":[0,0.2,0.4,0.6,0.8,1],"labels":false,"title":null}},"y":{"datum":0,"type":"quantitative","axis":{"orient":"right","values":[-0.06,-0.04,-0.02,0,0.02,0.04],"labels":false,"title":null}}}}
]},
{"width":1200,"height":377,
"resolve":{"axis":{"x":"independent","y":"independent"},"scale":{"fill":"independent","shape":"independent","stroke":"independent","color":"independent"}},
"layer":[
{"data":{"name":"leg"},"mark":{"type":"point","filled":true,"size":0,"opacity":1},"encoding":{
"fill":{"field":"label","type":"nominal","scale":{"domain":["0 free z","5 free z","10 free z","15 free z","20 free z","25 free z","0 spec z","5 spec z","10 spec z","15 spec z","20 spec z","25 spec z"],"range":["white","white","white","white","white","white","#ff0000","#ffa500","#ffff00","#008000","#0000ff","#800080"]},"legend":{"title":null,"orient":"none","legendX":327,"legendY":319,"direction":"horizontal","columns":6,"symbolSize":225,"symbolOffset":10,"symbolStrokeWidth":1,"symbolOpacity":1,"labelFont":"DejaVu Sans","labelFontSize":15,"labelColor":"black","labelOffset":20,"labelLimit":200,"columnPadding":28.5,"rowPadding":3,"padding":4.5,"strokeColor":"black","fillColor":"white"}},
"stroke":{"field":"label","type":"nominal","scale":{"domain":["0 free z","5 free z","10 free z","15 free z","20 free z","25 free z","0 spec z","5 spec z","10 spec z","15 spec z","20 spec z","25 spec z"],"range":["black","black","black","black","black","black","#ff0000","#ffa500","#ffff00","#008000","#0000ff","#800080"]},"legend":{"title":null}},
"shape":{"field":"label","type":"nominal","scale":{"domain":["0 free z","5 free z","10 free z","15 free z","20 free z","25 free z","0 spec z","5 spec z","10 spec z","15 spec z","20 spec z","25 spec z"],"range":["M-.81,0A.66,.66,0,1,1,-2.13,0A.66,.66,0,1,1,-.81,0ZM2.13,0A.66,.66,0,1,1,.81,0A.66,.66,0,1,1,2.13,0Z","M-2.13,-.66H-.81V.66H-2.13ZM.81,-.66H2.13V.66H.81Z","M-1.47,-.71L-.76,.56H-2.18ZM1.47,-.71L2.18,.56H.76Z","M-1.47,-.68L-.82,-.21L-1.07,.55H-1.87L-2.12,-.21ZM1.47,-.68L2.12,-.21L1.87,.55H1.07L.82,-.21Z","M-1.47,-.94L-.53,0L-1.47,.94L-2.41,0ZM1.47,-.94L2.41,0L1.47,.94L.53,0Z","M-2.18,-.56H-.76L-1.47,.71ZM.76,-.56H2.18L1.47,.71Z","M-2.53,-1H2.53V1H-2.53Z","M-2.53,-1H2.53V1H-2.53Z","M-2.53,-1H2.53V1H-2.53Z","M-2.53,-1H2.53V1H-2.53Z","M-2.53,-1H2.53V1H-2.53Z","M-2.53,-1H2.53V1H-2.53Z"]},"legend":{"title":null}}}},
{"data":{"name":"b2"},"mark":{"type":"area","color":"#bdbdbd","clip":true,"opacity":1},"encoding":{"x":{"field":"x","type":"quantitative","scale":{"domain":[0,52],"nice":false,"zero":false},"axis":{"orient":"bottom","values":[0,10,20,30,40,50],"format":"d","title":"Total # of image systems (N=n+m)","titlePadding":8}},"y":{"field":"h3","type":"quantitative","scale":{"domain":[-0.07,0.05],"nice":false,"zero":false},"axis":{"orient":"left","labelPadding":13,"values":[-0.06,-0.04,-0.02,0,0.02,0.04],"format":".2f","title":"log₁₀μ − log₁₀μ","titleFont":"DejaVu Serif","titleFontSize":26,"titleAnchor":"start","titleAngle":270,"titleX":-99,"titleY":316,"titleAlign":"left","titleBaseline":"alphabetic"}},"y2":{"field":"l3"}}},
{"data":{"name":"b2"},"mark":{"type":"area","color":"#808080","clip":true,"opacity":1},"encoding":{"x":{"field":"x","type":"quantitative","axis":null},"y":{"field":"h2","type":"quantitative","axis":null},"y2":{"field":"l2"}}},
{"data":{"name":"b2"},"mark":{"type":"area","color":"#404040","clip":true,"opacity":1},"encoding":{"x":{"field":"x","type":"quantitative","axis":null},"y":{"field":"h1","type":"quantitative","axis":null},"y2":{"field":"l1"}}},
{"data":{"name":"lines"},"mark":{"type":"rule","color":"black"},"encoding":{"y":{"field":"v","type":"quantitative","axis":null},"strokeDash":{"field":"k","type":"nominal","scale":{"domain":["solid","dash"],"range":[[1,0],[8,6]]},"legend":null},"strokeWidth":{"field":"k","type":"nominal","scale":{"domain":["solid","dash"],"range":[2.5,2]},"legend":null}}},
{"data":{"name":"pts"},"mark":{"type":"rule","clip":true,"strokeWidth":1.5,"opacity":1},"encoding":{"x":{"field":"N","type":"quantitative","axis":null},"y":{"field":"lo","type":"quantitative","axis":null},"y2":{"field":"hi"},"color":{"field":"n","type":"ordinal","scale":{"domain":[0,5,10,15,20,25],"range":["#ff0000","#ffa500","#ffff00","#008000","#0000ff","#800080"]},"legend":null}}},
{"data":{"name":"pts"},"mark":{"type":"tick","orient":"horizontal","size":9,"thickness":1.2,"clip":true,"opacity":1},"encoding":{"x":{"field":"N","type":"quantitative","axis":null},"y":{"field":"lo","type":"quantitative","axis":null},"color":{"field":"n","type":"ordinal","scale":{"domain":[0,5,10,15,20,25],"range":["#ff0000","#ffa500","#ffff00","#008000","#0000ff","#800080"]},"legend":null}}},
{"data":{"name":"pts"},"mark":{"type":"tick","orient":"horizontal","size":9,"thickness":1.2,"clip":true,"opacity":1},"encoding":{"x":{"field":"N","type":"quantitative","axis":null},"y":{"field":"hi","type":"quantitative","axis":null},"color":{"field":"n","type":"ordinal","scale":{"domain":[0,5,10,15,20,25],"range":["#ff0000","#ffa500","#ffff00","#008000","#0000ff","#800080"]},"legend":null}}},
{"data":{"name":"pts"},"mark":{"type":"point","filled":true,"stroke":"black","strokeWidth":1,"size":100,"opacity":1,"clip":true},"encoding":{"x":{"field":"N","type":"quantitative","axis":null},"y":{"field":"y","type":"quantitative","axis":null},"fill":{"field":"n","type":"ordinal","scale":{"domain":[0,5,10,15,20,25],"range":["#ff0000","#ffa500","#ffff00","#008000","#0000ff","#800080"]},"legend":null},"shape":{"field":"m","type":"ordinal","scale":{"domain":[0,5,10,15,20,25],"range":["M1,0A1,1,0,1,1,-1,0A1,1,0,1,1,1,0Z","M-1,-1H1V1H-1Z","M0,-1.1L1,.9H-1Z","M0,-1.05L1,-.32L.62,.85H-.62L-1,-.32Z","M0,-1.4L1.4,0L0,1.4L-1.4,0Z","M-1,-.9H1L0,1.1Z"]},"legend":null}}},
{"data":{"name":"sub"},"mark":{"type":"text","font":"DejaVu Serif","fontStyle":"italic","fontSize":17,"angle":270,"align":"left","baseline":"alphabetic","color":"black"},"encoding":{"text":{"field":"t"},"x":{"datum":-4.12,"type":"quantitative","axis":null},"y":{"datum":0.0099,"type":"quantitative","axis":null}}},
{"data":{"name":"sub"},"mark":{"type":"point","size":0,"opacity":0},"encoding":{"x":{"datum":0,"type":"quantitative","axis":{"orient":"top","values":[0,10,20,30,40,50],"labels":false,"title":null}},"y":{"datum":0,"type":"quantitative","axis":{"orient":"right","values":[-0.06,-0.04,-0.02,0,0.02,0.04],"labels":false,"title":null}}}}
]}
]}
